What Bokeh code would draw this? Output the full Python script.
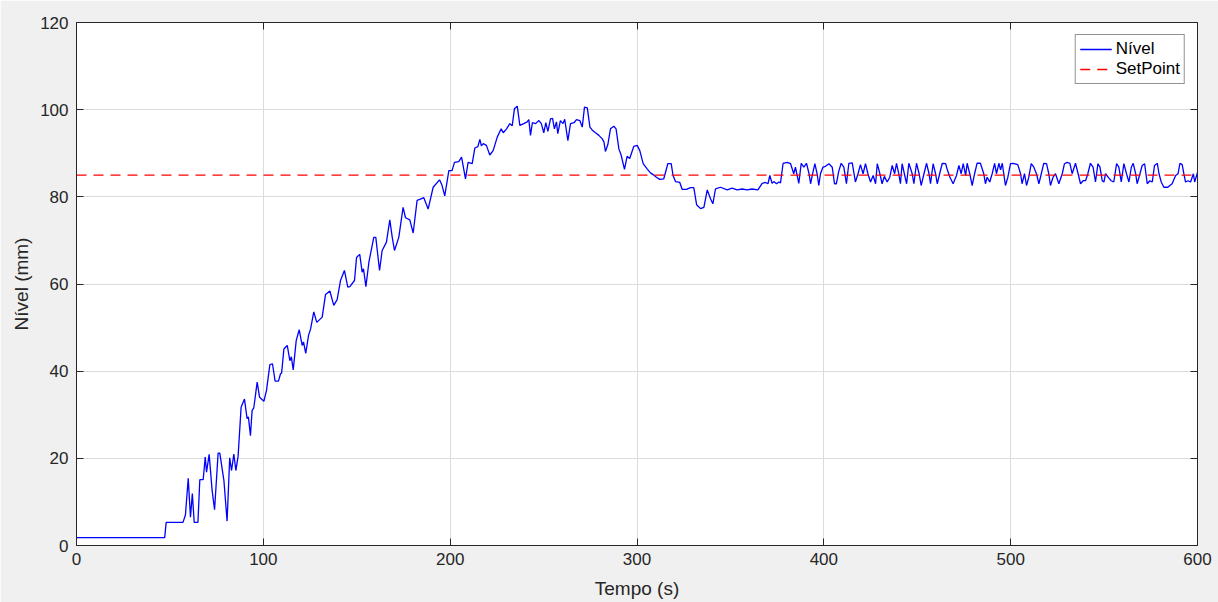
from bokeh.plotting import figure
from bokeh.models import Range1d, LinearAxis, FixedTicker, Legend, LegendItem, CustomJSTickFormatter
from bokeh.embed import file_html
from bokeh.resources import INLINE

# ---- data ----
tempo = [0, 47.2, 48, 57, 58.3, 59.8, 61, 62, 63, 65, 66, 67.8, 68.9, 69.6, 71, 72.6, 73.9, 75.8, 76.7, 78.9,
         80.6, 82, 83, 84.2, 85.3, 86.5, 88.1, 89.9, 91.3, 92, 93.1, 94, 94.9, 96.7, 98, 100.3, 101.7, 103.5, 104.9,
         106.3, 108.1, 109.2, 109.8, 111, 112.8, 114.2, 115, 116, 117.6, 119.2, 120.8, 121.5, 122.7, 124.2, 125.3,
         127, 128.6, 131.5, 133.3, 135.6, 137.7, 139.5, 141.3, 143.4, 145.2, 146.3, 148.8, 149.9, 151.6, 152.9,
         153.6, 154.9, 156.5, 159.1, 160.2, 162.2, 163.6, 165.9, 167.7, 169, 170.2, 172.5, 174.8, 176.1, 178.4,
         180.2, 182.3, 183.7, 185.9, 188.2, 190.9, 194.3, 195.6, 197.1, 199.3, 201, 202.3, 204.6, 206.1, 208.2,
         209.6, 211.8, 213.2, 214.8, 215.9, 216.7, 217.7, 219.4, 221.2, 223, 225.2, 227.3, 228.4, 230.2, 231.9,
         233.2, 234.4, 235.9, 237.3, 239.4, 241.2, 242.1, 243, 244, 245.7, 247.5, 248.8, 250.1, 251.2, 252.3,
         253.7, 254.8, 255.8, 256.9, 257.6, 259, 260.4, 261.3, 263, 264.4, 266.3, 267.6, 269.4, 270.7, 271.9,
         273.4, 274.8, 276.1, 277.8, 279.6, 281.4, 282.3, 283.1, 284.4, 285.8, 287.6, 288.8, 290.3, 291.5, 293.3,
         294.7, 296.1, 298.3, 300.1, 301.5, 303.3, 305.4, 307.2, 308.6, 310.4, 312.2, 314.3, 316.5, 318.3, 319.3,
         320.6, 322.9, 324.2, 326.5, 328.6, 330.4, 331.9, 334, 335.8, 337.6, 339.4, 340.6, 342, 344.7, 348.3,
         350.9, 353.6, 356.3, 359, 361.6, 364.7, 367, 368.8, 370.1, 371.1, 372.3, 373.2, 374.7, 376, 376.8, 378.2,
         380.4, 382.2, 383.9, 384.8, 386.6, 387.9, 389.3, 390.7, 392.1, 392.9, 393.8, 395.2, 396.4, 397.3, 398.2,
         399.5, 400.9, 402.7, 404.5, 405.7, 406.7, 408, 409.3, 410.7, 412.1, 413.4, 415.2, 416.9, 418.3, 419.6,
         421, 422.3, 423.6, 425, 426.4, 427.7, 428.6, 430, 431.2, 432.4, 433.9, 435.3, 436.6, 437.9, 438.9, 440.1,
         441, 441.9, 443.1, 444.3, 445.5, 447.3, 448.2, 449.6, 451, 452.1, 453.6, 455, 456.3, 457.1, 458.5, 459.8,
         460.7, 462, 463.4, 465.2, 466.1, 467.5, 469.2, 471, 472.3, 473.5, 474.6, 475.9, 476.7, 478.1, 479.4,
         480.7, 482, 483.8, 485.6, 486.5, 487.4, 488.8, 490.1, 491.4, 492.4, 493.7, 494.6, 495.5, 496.3, 497.2,
         498.5, 499.9, 501.3, 503.8, 505.3, 506.1, 507.4, 508.5, 509.7, 511, 512.4, 513.8, 515.1, 516.4, 517.7,
         519.2, 520.4, 521.3, 522.7, 524, 525.8, 527.6, 528.8, 530.2, 531.7, 532.9, 534.7, 536.1, 537.4, 538.8,
         540.1, 541.3, 542.7, 544.1, 545.4, 546.7, 547.8, 549, 549.9, 550.8, 552.6, 553.8, 555.2, 556.7, 557.9,
         559.2, 560.6, 562, 563.3, 564.6, 565.6, 566.9, 567.7, 569.2, 570.4, 571.7, 573.1, 574.5, 575.8, 577,
         578.5, 579.4, 580.6, 582, 584.1, 586.4, 588.3, 589.6, 590.6, 591.8, 592.7, 593.6, 594.9, 596.3, 597.8,
         598.5, 600]
nivel = [1.8, 1.8, 5.3, 5.3, 7, 15.4, 6.5, 11.9, 5.3, 5.3, 15.1, 15.1, 20.3, 16.8, 20.9, 12.6, 8.2, 21.2, 21.2, 14.9,
         5.6, 20.1, 17.2, 21, 17.2, 20.5, 31.7, 33.6, 29.1, 29.5, 25.2, 31, 31.6, 37.5, 34, 33.1, 35.6, 41.5, 41.7,
         37.7, 37.7, 39.4, 39.6, 45.1, 45.9, 42.4, 43.3, 40.3, 47, 49.5, 45.9, 46.7, 44.1, 48.2, 49.7,
         53.6, 51.2, 52.4, 57.6, 58.4, 55.1, 56.4, 60.8, 63.1, 59.3, 59.4, 60.8, 66.1, 66.8, 62.7,
         63.5, 59.4, 65, 70.7, 70.7, 63.1, 67.7, 69.6, 74.7, 70.7, 67.7, 70.7, 77.6, 75.2, 74.7,
         71.7, 79.2, 79.4, 79.8, 77.2, 82.2, 83.9, 82.7, 80.2, 86, 86, 87.9, 88.1, 89.1, 84.1,
         87.9, 87.6, 91.2, 91.5, 93.2, 91.7, 92.2, 91.8, 89.6, 90.6, 93.7, 95.6, 94.7, 95.6, 96.8,
         96.3, 100.2, 100.8, 96.4, 96.8, 97.2, 97.7, 94.1, 97, 96.8, 97.5, 96.8, 94.7, 97, 95,
         97.9, 98, 95.6, 97.2, 94.5, 97.5, 96.8, 97.8, 92.9, 96.8, 97, 97.7, 97.5, 96, 100.6,
         100.4, 96, 95.3, 94.7, 94.1, 93.3, 92.6, 90.4, 92, 95.6, 96.2, 95.6, 91, 89.6, 86.3,
         89.3, 88.8, 91.6, 91.8, 90.6, 87.6, 86.4, 85.5, 85.1, 84.5, 84, 84.1, 87.6, 87.6, 84.9,
         83.5, 83.3, 81.7, 81.7, 82.1, 82.1, 78.2, 77.3, 77.6, 81.6, 79.5, 78.4, 81.8, 82.2, 81.6,
         82, 81.6, 81.8, 81.6, 81.8, 81.6, 83.1, 83.3, 83, 84.9, 83.1, 83.5, 83, 83.4, 83.2, 87.7,
         87.9, 87.6, 85.3, 86.8, 83.1, 87.7, 86.8, 87.7, 85.3, 83, 84.9, 87.6, 85.3, 82.6, 85.3,
         86.8, 87, 87.6, 86.8, 83, 83, 85.9, 87.7, 86.8, 83, 87.7, 87.8, 83.4, 85.3, 87.4,
         85.3, 87.6, 85.3, 83.4, 84.9, 83, 87.6, 85.3, 83, 84.7, 83.4, 84.5, 87.2, 85.3, 87.7, 85.3,
         83, 87.6, 85.3, 83, 87.7, 85.3, 83, 87.7, 85.3, 82.6, 85.3, 87.7, 85.3, 83, 87.6, 85.3,
         83, 85.3, 87.7, 87.6, 86.2, 84.5, 83, 84.9, 87.2, 85.3, 87.6, 84.9, 87.7, 85.3, 82.6,
         85.3, 87.7, 87.7, 85.3, 83, 84.5, 83.4, 85.3, 87.7, 85.3, 87.7, 86.2, 87.7, 85.3, 82.6,
         84.5, 87.6, 87.7, 87.4, 85.3, 83, 85.3, 82.6, 84.5, 87.6, 86.8, 85.3, 83, 85.3, 87.7,
         87.6, 85.3, 82.6, 84.5, 85.3, 83, 85.3, 87.6, 87.9, 87.7, 85.3, 87.7, 85.3, 83, 83.7,
         83.7, 85.3, 87.7, 86.8, 83.4, 87.6, 86.8, 83.7, 83.4, 85.3, 84.3, 83.7, 83.4, 87.6, 86.8,
         83.4, 87.6, 85.3, 83.4, 86.8, 87.7, 85.3, 83, 85.3, 87.2, 87.6, 83, 83.7, 83.4, 87.2,
         87.7, 85.3, 83.4, 82.2, 82.2, 83, 84.9, 85.3, 87.7, 87.4, 85.3, 83.4, 83.7, 83.4, 85.3,
         83.4, 85.6]
setpoint_t = [0, 600]
setpoint_v = [85, 85]
x_ticks = [0, 100, 200, 300, 400, 500, 600]
y_ticks = [0, 20, 40, 60, 80, 100, 120]

FONT = "Liberation Sans"
TXT = "#262626"

p = figure(width=1218, height=602, output_backend="svg", toolbar_location=None,
           x_range=Range1d(0, 600), y_range=Range1d(0, 120),
           min_border_left=76, min_border_right=21, min_border_top=22, min_border_bottom=57,
           background_fill_color="white", border_fill_color="#f0f0f0",
           x_axis_label="Tempo (s)", y_axis_label="Nível (mm)")

p.outline_line_color = TXT
p.outline_line_width = 1

for ax in (p.xaxis[0], p.yaxis[0]):
    ax.axis_line_color = TXT
    ax.major_tick_line_color = TXT
    ax.major_tick_in = 7
    ax.major_tick_out = 0
    ax.minor_tick_line_color = None
    ax.major_label_text_font = FONT
    ax.major_label_text_font_size = "17px"
    ax.major_label_text_color = TXT
    ax.axis_label_text_font = FONT
    ax.axis_label_text_font_size = "19px"
    ax.axis_label_text_font_style = "normal"
    ax.axis_label_text_color = TXT

p.xaxis[0].ticker = FixedTicker(ticks=x_ticks)
p.yaxis[0].ticker = FixedTicker(ticks=y_ticks)
p.xaxis[0].major_label_standoff = 7
p.xaxis[0].axis_label_standoff = 10
p.yaxis[0].major_label_standoff = 8
p.yaxis[0].axis_label_standoff = 5

# mirrored inward ticks on top and right (box on)
blank = CustomJSTickFormatter(code="return ''")
top_ax = LinearAxis(ticker=FixedTicker(ticks=x_ticks), formatter=blank)
right_ax = LinearAxis(ticker=FixedTicker(ticks=y_ticks), formatter=blank)
for ax in (top_ax, right_ax):
    ax.axis_line_color = TXT
    ax.major_tick_line_color = TXT
    ax.major_tick_in = 7
    ax.major_tick_out = 0
    ax.minor_tick_line_color = None
    ax.major_label_standoff = 0
    ax.major_label_text_font_size = "1px"
p.add_layout(top_ax, "above")
p.add_layout(right_ax, "right")

p.xgrid.ticker = FixedTicker(ticks=x_ticks)
p.ygrid.ticker = FixedTicker(ticks=y_ticks)
p.grid.grid_line_color = "#dcdcdc"
p.grid.grid_line_width = 1

r1 = p.line(tempo, nivel, line_color="#0000ff", line_width=1.3)
r2 = p.line(setpoint_t, setpoint_v, line_color="#ff0000", line_width=1.3, line_dash="10 7")

legend = Legend(items=[LegendItem(label="Nível", renderers=[r1]),
                       LegendItem(label="SetPoint", renderers=[r2])],
                location="top_right")
legend.label_text_font = FONT
legend.label_text_font_size = "17px"
legend.label_text_color = "black"
legend.border_line_color = TXT
legend.border_line_width = 1
legend.background_fill_color = "white"
legend.background_fill_alpha = 1
legend.margin = 12
legend.padding = 4
legend.spacing = 0
legend.glyph_width = 32
legend.glyph_height = 20
legend.label_height = 20
legend.label_standoff = 4
p.add_layout(legend)

html = file_html(p, INLINE)
open("out.html", "w").write(html)
